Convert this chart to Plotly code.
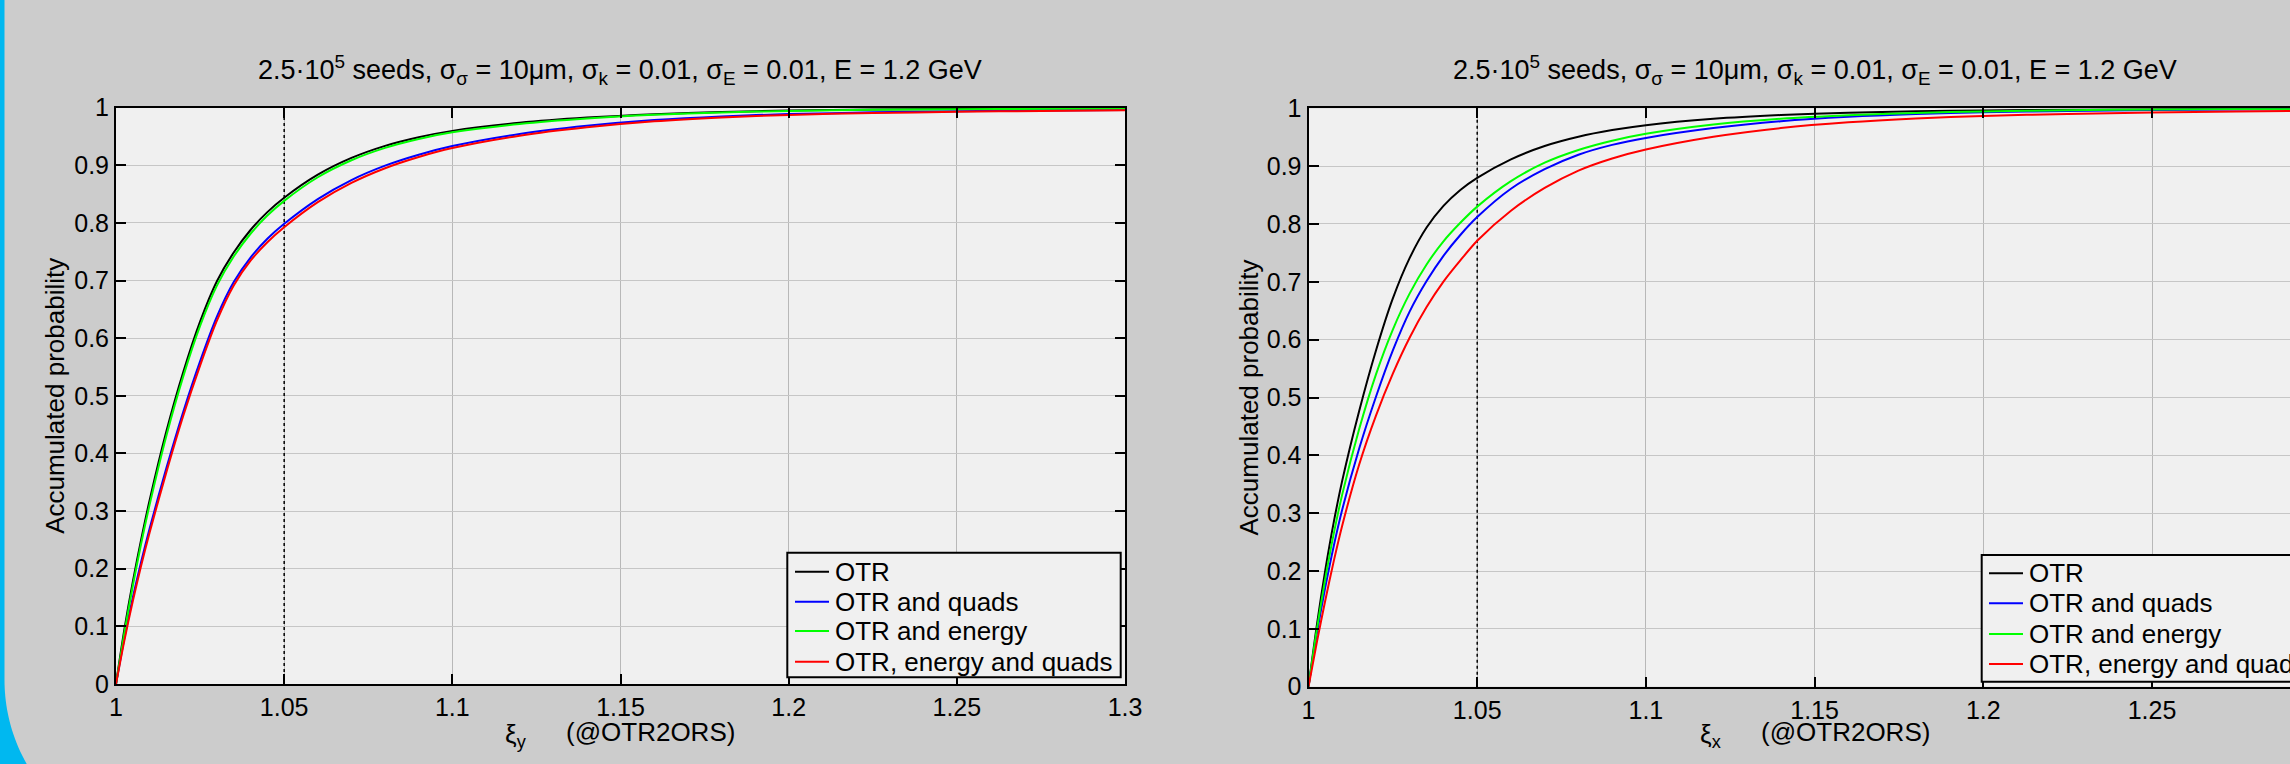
import math
import plotly.graph_objects as go

# ---------------- data ----------------
xi = [1, 1.0025, 1.005, 1.0075, 1.01, 1.015, 1.02, 1.025, 1.03, 1.035, 1.04, 1.045,
      1.05, 1.06, 1.07, 1.08, 1.09, 1.1, 1.12, 1.14, 1.16, 1.18, 1.2, 1.225, 1.25,
      1.275, 1.3]

# left panel: xi_y
otr_y = [0, 0.095, 0.1775, 0.2513, 0.3188, 0.4388, 0.5413, 0.6288, 0.6988, 0.7488,
         0.7878, 0.8188, 0.8438, 0.8838, 0.9128, 0.9338, 0.9488, 0.9598, 0.9738, 0.9828,
         0.9888, 0.9926, 0.995, 0.99675, 0.99775, 0.9984, 0.9988]
quads_y = [0, 0.08, 0.15, 0.2125, 0.27, 0.375, 0.4725, 0.56, 0.6375, 0.6975, 0.74,
           0.7725, 0.7985, 0.8415, 0.8745, 0.8995, 0.9185, 0.9335, 0.9545, 0.9685, 0.9785,
           0.9849, 0.9889, 0.9919, 0.9939, 0.9952, 0.9962]
energy_y = [0, 0.089, 0.1705, 0.2443, 0.3113, 0.4313, 0.5338, 0.6213, 0.6913, 0.7418,
            0.7813, 0.8128, 0.8383, 0.8793, 0.9088, 0.9303, 0.9458, 0.9573, 0.9718, 0.9813,
            0.9878, 0.9918, 0.9944, 0.9963, 0.9974, 0.9981, 0.9986]
both_y = [0, 0.076, 0.144, 0.206, 0.263, 0.368, 0.4655, 0.5525, 0.6305, 0.6915, 0.7345,
          0.7665, 0.7925, 0.836, 0.8695, 0.895, 0.9145, 0.93, 0.9515, 0.966, 0.9765,
          0.9832, 0.9875, 0.9907, 0.9929, 0.9944, 0.9955]

# right panel: xi_x
otr_x = [0, 0.1075, 0.2025, 0.285, 0.3563, 0.4763, 0.5813, 0.6713, 0.7413, 0.7938,
         0.8313, 0.8588, 0.8798, 0.9118, 0.9348, 0.9508, 0.9623, 0.9708, 0.9818, 0.9884,
         0.9924, 0.9948, 0.9964, 0.99765, 0.9984, 0.9989, 0.9992]
quads_x = [0, 0.0925, 0.1725, 0.2438, 0.3063, 0.4113, 0.5013, 0.5813, 0.6488, 0.7013,
           0.745, 0.781, 0.812, 0.861, 0.8948, 0.9198, 0.9368, 0.9488, 0.9658, 0.9778,
           0.9854, 0.9902, 0.9932, 0.99545, 0.99695, 0.99795, 0.9987]
energy_x = [0, 0.1, 0.1875, 0.265, 0.3325, 0.445, 0.54, 0.6175, 0.68, 0.73, 0.77, 0.802,
            0.83, 0.874, 0.906, 0.928, 0.944, 0.956, 0.972, 0.982, 0.988, 0.992, 0.9946,
            0.9966, 0.99785, 0.9986, 0.9991]
both_x = [0, 0.0775, 0.15, 0.2175, 0.2788, 0.3838, 0.4688, 0.5413, 0.6038, 0.6563,
          0.7003, 0.737, 0.771, 0.823, 0.8623, 0.8923, 0.9133, 0.9288, 0.9508, 0.9658,
          0.9758, 0.9824, 0.9868, 0.9903, 0.9928, 0.99455, 0.9958]

series_names = ["OTR", "OTR and quads", "OTR and energy", "OTR, energy and quads"]
series_colors = ["#000000", "#0000ff", "#00ff00", "#ff0000"]
left_series = [otr_y, quads_y, energy_y, both_y]
right_series = [otr_x, quads_x, energy_x, both_x]

marker_x = 1.05  # dotted reference line

x_tickvals = [1, 1.05, 1.1, 1.15, 1.2, 1.25, 1.3]
x_ticktext = ["1", "1.05", "1.1", "1.15", "1.2", "1.25", "1.3"]
y_tickvals = [0, 0.1, 0.2, 0.3, 0.4, 0.5, 0.6, 0.7, 0.8, 0.9, 1]
y_ticktext = ["0", "0.1", "0.2", "0.3", "0.4", "0.5", "0.6", "0.7", "0.8", "0.9", "1"]

title_text = ("2.5·10<sup>5</sup> seeds, σ<sub>σ</sub> = 10μm, σ<sub>k</sub> = 0.01, "
              "σ<sub>E</sub> = 0.01, E = 1.2 GeV")
ylabel_text = "Accumulated probability"
xlabel_sym = ["ξ<sub>y</sub>", "ξ<sub>x</sub>"]
xlabel_loc = "(@OTR2ORS)"

# ---------------- layout helpers ----------------
W, H = 2290, 764
FONT = "Liberation Sans, Arial, Helvetica, sans-serif"


def px(x):
    return x / W


def py(y):
    return 1 - y / H


# panel geometry in pixels
L = dict(x0=116, x1=1125, y0=107.7, y1=684.0, xr=[1, 1.3])
R = dict(x0=1308.5, x1=2290, y0=108.3, y1=686.7, xr=[1, 1 + (2290 - 1308.5) / 3374.0])

fig = go.Figure()

for xa, ya in (("x", "y"), ("x2", "y2")):
    fig.add_trace(go.Scatter(x=[marker_x, marker_x], y=[0, 1], mode="lines",
                             line=dict(color="black", width=1.5, dash="dot"),
                             xaxis=xa, yaxis=ya, showlegend=False, hoverinfo="skip"))

for i, (name, color) in enumerate(zip(series_names, series_colors)):
    fig.add_trace(go.Scatter(x=xi, y=left_series[i], mode="lines", name=name,
                             line=dict(color=color, width=2, shape="spline", smoothing=0.8),
                             xaxis="x", yaxis="y", showlegend=False))
    fig.add_trace(go.Scatter(x=xi, y=right_series[i], mode="lines", name=name,
                             line=dict(color=color, width=2, shape="spline", smoothing=0.8),
                             xaxis="x2", yaxis="y2", showlegend=False))

axis_base = dict(showline=True, linecolor="black", linewidth=2, ticks="inside",
                 ticklen=10, tickwidth=2, tickcolor="black", showgrid=True,
                 gridwidth=1, zeroline=False, automargin=False,
                 tickfont=dict(family=FONT, size=25, color="black"))

fig.update_layout(
    width=W, height=H,
    margin=dict(l=0, r=0, t=0, b=0),
    paper_bgcolor="#cccccc",
    plot_bgcolor="#f0f0f0",
    showlegend=False,
    xaxis=dict(axis_base, domain=[px(L["x0"]), px(L["x1"])], range=L["xr"],
               tickvals=x_tickvals, ticktext=x_ticktext, mirror="ticks",
               gridcolor="#b8b8b8", anchor="y"),
    yaxis=dict(axis_base, domain=[py(L["y1"]), py(L["y0"])], range=[0, 1],
               tickvals=y_tickvals, ticktext=y_ticktext, mirror="ticks",
               gridcolor="#c6c6c6", anchor="x"),
    xaxis2=dict(axis_base, domain=[px(R["x0"]), 1.0], range=R["xr"],
                tickvals=x_tickvals, ticktext=x_ticktext, mirror="ticks",
                gridcolor="#b8b8b8", anchor="y2"),
    yaxis2=dict(axis_base, domain=[py(R["y1"]), py(R["y0"])], range=[0, 1],
                tickvals=y_tickvals, ticktext=y_ticktext, mirror=False,
                gridcolor="#c6c6c6", anchor="x2"),
)

shapes = []
annotations = []

# blue slide edge with rounded bottom-left corner
pts = [(0, 0), (4.5, 0), (4.5, 680)]
Rr = 170.0
cx, cy = 4.5 + Rr, 680.0
for k in range(1, 21):
    yy = 680 + 84 * k / 20
    xx = cx - math.sqrt(Rr * Rr - (yy - cy) ** 2)
    pts.append((xx, yy))
pts.append((0, 764))
path = "M " + " L ".join(f"{px(a):.6f},{py(b):.6f}" for a, b in pts) + " Z"
shapes.append(dict(type="path", xref="paper", yref="paper", path=path,
                   fillcolor="#00b8f0", line=dict(width=0), layer="above"))

# panel titles and axis titles
for P, sym, yt in ((L, xlabel_sym[0], 55), (R, xlabel_sym[1], 1248)):
    cxp = P["x0"] + (1.15 - 1) / (P["xr"][1] - 1) * (P["x1"] - P["x0"])
    annotations.append(dict(text=title_text, x=px(cxp), y=py(70), xref="paper", yref="paper",
                            xanchor="center", yanchor="middle", showarrow=False,
                            font=dict(family=FONT, size=27, color="black")))
    annotations.append(dict(text=sym, x=px(cxp - 117), y=py(735), xref="paper", yref="paper",
                            xanchor="left", yanchor="middle", showarrow=False,
                            font=dict(family=FONT, size=26, color="black")))
    annotations.append(dict(text=xlabel_loc, x=px(cxp - 56), y=py(732), xref="paper",
                            yref="paper", xanchor="left", yanchor="middle", showarrow=False,
                            font=dict(family=FONT, size=26, color="black")))
    annotations.append(dict(text=ylabel_text, x=px(yt), y=py((P["y0"] + P["y1"]) / 2),
                            xref="paper", yref="paper", xanchor="center", yanchor="middle",
                            textangle=-90, showarrow=False,
                            font=dict(family=FONT, size=26, color="black")))

# legends (drawn as boxes with sample lines)
for bx0, bx1, by0, by1, lx0, lx1, tx, rows in (
        (787.3, 1120.7, 552.7, 677.3, 795, 829, 833, [571.7, 601.7, 631.0, 661.7]),
        (1981.7, 2400, 555.0, 681.7, 1989, 2023, 2027, [573.3, 603.3, 634.0, 664.0])):
    shapes.append(dict(type="rect", xref="paper", yref="paper",
                       x0=px(bx0), x1=px(bx1), y0=py(by1), y1=py(by0),
                       fillcolor="#f0f0f0", line=dict(color="black", width=2),
                       layer="above"))
    for name, color, ry in zip(series_names, series_colors, rows):
        shapes.append(dict(type="line", xref="paper", yref="paper",
                           x0=px(lx0), x1=px(lx1), y0=py(ry), y1=py(ry),
                           line=dict(color=color, width=2), layer="above"))
        annotations.append(dict(text=name, x=px(tx), y=py(ry), xref="paper", yref="paper",
                                xanchor="left", yanchor="middle", showarrow=False,
                                font=dict(family=FONT, size=26, color="black")))

fig.update_layout(shapes=shapes, annotations=annotations)

fig.write_html("out.html")
